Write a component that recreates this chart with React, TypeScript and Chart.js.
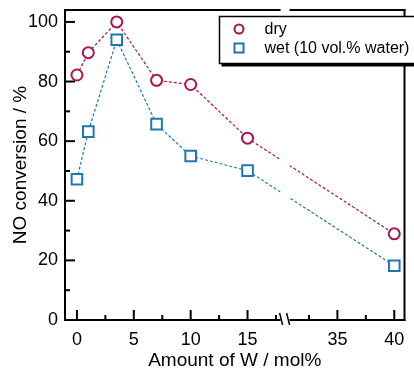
import React, { useEffect, useRef } from "react";
import { Chart, registerables } from "chart.js";

Chart.register(...registerables);

// ---- data ----
const amounts = [0, 1, 3.5, 7, 10, 15, 40];
const dryConversion = [82.2, 89.7, 100, 80.4, 79, 61, 28.9];
const wetConversion = [47.2, 63.2, 94, 65.7, 55, 50.1, 18.2];
const xMajorTicks = [0, 5, 10, 15, 35, 40];
const xMinorTicks = [2.5, 7.5, 12.5, 17.5, 32.5, 37.5];
const yMajorTicks = [0, 20, 40, 60, 80, 100];
const yMinorTicks = [10, 30, 50, 70, 90];
const seriesLabels = ["dry", "wet (10 vol.% water)"];

// broken axis: values above BREAK_START are shifted left by BREAK_SHIFT
const BREAK_START = 20;
const BREAK_SHIFT = 12.1;
const BREAK_POS = 18.3;
const toAxis = (v: number) => (v > BREAK_START ? v - BREAK_SHIFT : v);

const DRY = "#A8174C";
const WET = "#1C79B0";
const FONT = "'Liberation Sans', Arial, sans-serif";

const framePlugin = {
  id: "frame",
  afterDraw(chart: any) {
    const { ctx, chartArea, scales } = chart;
    const { left, right, top, bottom } = chartArea;
    const x = scales.x;
    const y = scales.y;
    ctx.save();
    const bx = x.getPixelForValue(BREAK_POS);
    const gap = 4.5;
    // white strip cuts lines at the break
    ctx.fillStyle = "#fff";
    ctx.fillRect(bx - gap, top - 3, gap * 2, bottom - top + 5);

    ctx.strokeStyle = "#000";
    ctx.lineWidth = 2;
    ctx.lineCap = "butt";
    const seg = (x1: number, y1: number, x2: number, y2: number) => {
      ctx.beginPath();
      ctx.moveTo(x1, y1);
      ctx.lineTo(x2, y2);
      ctx.stroke();
    };
    // frame
    seg(left, top - 1, left, bottom + 1);
    seg(right, top - 1, right, bottom + 1);
    seg(left - 1, bottom, bx - gap, bottom);
    seg(bx + gap, bottom, right + 1, bottom);
    seg(left - 1, top, bx - gap, top);
    seg(bx + gap, top, right + 1, top);

    // y ticks (inward)
    yMajorTicks.forEach((v) => {
      const py = y.getPixelForValue(v);
      seg(left, py, left + 10, py);
    });
    yMinorTicks.forEach((v) => {
      const py = y.getPixelForValue(v);
      seg(left, py, left + 5, py);
    });
    // x ticks (inward)
    xMajorTicks.forEach((v) => {
      const px = x.getPixelForValue(toAxis(v));
      seg(px, bottom, px, bottom - 10);
    });
    xMinorTicks.forEach((v) => {
      const px = x.getPixelForValue(toAxis(v));
      seg(px, bottom, px, bottom - 5);
    });
    // break slashes
    ctx.lineWidth = 1.5;
    seg(bx - 5.5, bottom - 7, bx - 2.5, bottom + 5);
    seg(bx + 1.5, bottom - 7, bx + 4.5, bottom + 5);

    // legend
    const lx = right - 185;
    const ly = top + 6.5;
    const lw = 215;
    const lh = 47;
    ctx.fillStyle = "#000";
    ctx.fillRect(lx + 2, ly + 2, lw, lh + 1);
    ctx.fillStyle = "#fff";
    ctx.fillRect(lx, ly, lw, lh);
    ctx.lineWidth = 1.5;
    ctx.strokeStyle = "#000";
    ctx.strokeRect(lx, ly, lw, lh);
    const ds = chart.data.datasets;
    const rows = [ly + 12.5, ly + 31.5];
    ctx.font = `16px ${FONT}`;
    ctx.textBaseline = "middle";
    ctx.textAlign = "left";
    ds.forEach((d: any, i: number) => {
      const cy = rows[i];
      const cx = lx + 19.5;
      ctx.strokeStyle = d.borderColor;
      ctx.lineWidth = 2;
      ctx.beginPath();
      if (d.pointStyle === "rect") {
        ctx.rect(cx - 4.5, cy - 4.5, 9, 9);
      } else {
        ctx.arc(cx, cy, 4.5, 0, Math.PI * 2);
      }
      ctx.stroke();
      ctx.fillStyle = "#000";
      ctx.fillText(d.label, lx + 45, cy + 1);
    });
    ctx.restore();
  },
};

export default function App() {
  const ref = useRef<HTMLCanvasElement | null>(null);
  useEffect(() => {
    document.body.style.margin = "0";
    if (!ref.current) return;
    const chart = new Chart(ref.current, {
      type: "line",
      data: {
        datasets: [
          {
            label: seriesLabels[0],
            data: amounts.map((a, i) => ({ x: toAxis(a), y: dryConversion[i] })),
            borderColor: DRY,
            backgroundColor: "#fff",
            borderWidth: 1.2,
            borderDash: [3, 2],
            pointStyle: "circle",
            pointRadius: 5.5,
            pointBorderWidth: 2,
            pointBackgroundColor: "#fff",
            pointBorderColor: DRY,
            tension: 0,
          },
          {
            label: seriesLabels[1],
            data: amounts.map((a, i) => ({ x: toAxis(a), y: wetConversion[i] })),
            borderColor: WET,
            backgroundColor: "#fff",
            borderWidth: 1.2,
            borderDash: [3, 2],
            pointStyle: "rect",
            pointRadius: 7.5,
            pointBorderWidth: 2,
            pointBackgroundColor: "#fff",
            pointBorderColor: WET,
            tension: 0,
          },
        ],
      },
      options: {
        animation: false,
        responsive: true,
        maintainAspectRatio: false,
        layout: { padding: { top: 10, right: 7.3, left: 0, bottom: 0 } },
        plugins: { legend: { display: false }, tooltip: { enabled: false } },
        scales: {
          x: {
            type: "linear",
            min: -1.05,
            max: 28.8,
            grid: { display: false, drawTicks: false },
            border: { display: false },
            afterBuildTicks: (s: any) => {
              s.ticks = xMajorTicks.map((v) => ({ value: toAxis(v) }));
            },
            afterFit: (s: any) => {
              s.height = 49;
              s.paddingLeft = 0;
              s.paddingRight = 0;
            },
            ticks: {
              color: "#000",
              font: { size: 18, family: FONT },
              padding: 9,
              maxRotation: 0,
              autoSkip: false,
              callback: (_v: any, i: number) => String(xMajorTicks[i]),
            },
            title: {
              display: true,
              text: "Amount of W / mol%",
              color: "#000",
              font: { size: 19, family: FONT },
              padding: { top: 0, bottom: -3 },
            },
          },
          y: {
            type: "linear",
            min: 0,
            max: 104,
            grid: { display: false, drawTicks: false },
            border: { display: false },
            afterBuildTicks: (s: any) => {
              s.ticks = yMajorTicks.map((v) => ({ value: v }));
            },
            afterFit: (s: any) => {
              s.width = 65;
              s.paddingTop = 0;
              s.paddingBottom = 0;
            },
            ticks: {
              color: "#000",
              font: { size: 18, family: FONT },
              padding: 7,
            },
            title: {
              display: true,
              text: "NO conversion / %",
              color: "#000",
              font: { size: 19, family: FONT },
              padding: { top: 9, bottom: 0 },
            },
          },
        },
      },
      plugins: [framePlugin],
    });
    return () => chart.destroy();
  }, []);
  return (
    <div style={{ position: "relative", width: 414, height: 369 }}>
      <canvas ref={ref} />
    </div>
  );
}
